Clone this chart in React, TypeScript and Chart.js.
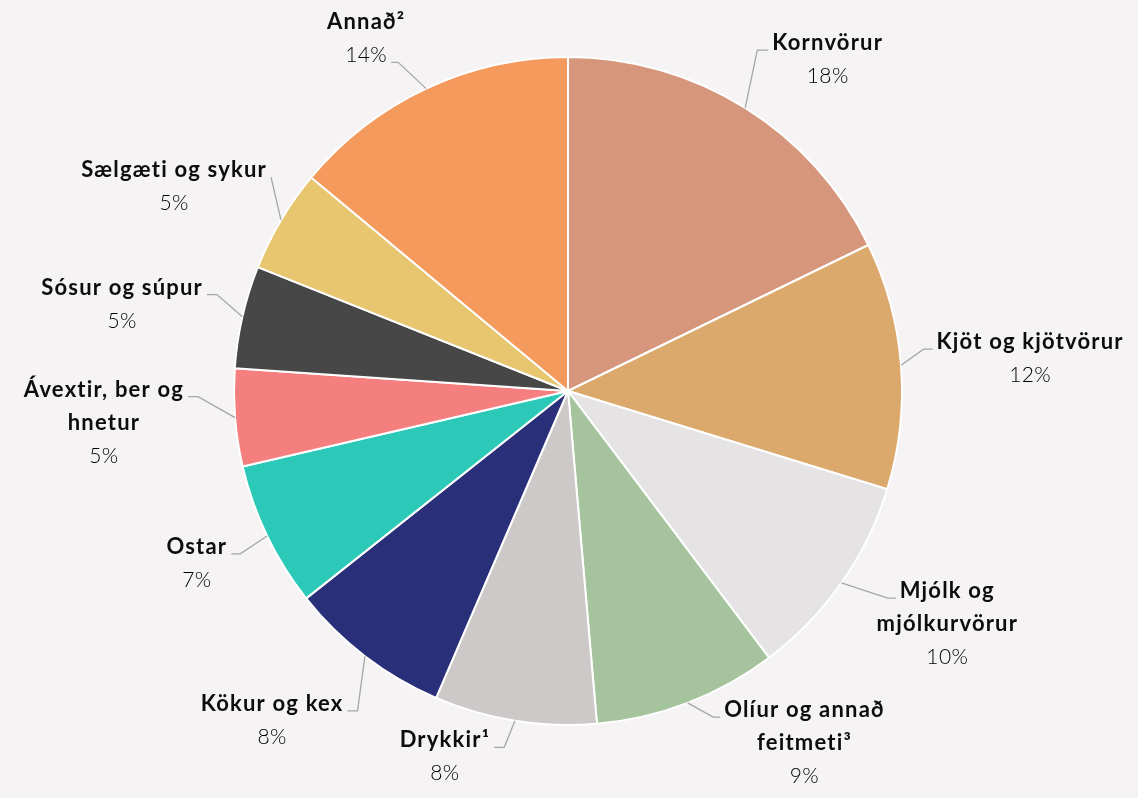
import React, { useEffect, useRef } from "react";
import { Chart, registerables } from "chart.js";

Chart.register(...registerables);

const categories: string[][] = [
  ["Kornvörur"],
  ["Kjöt og kjötvörur"],
  ["Mjólk og", "mjólkurvörur"],
  ["Olíur og annað", "feitmeti³"],
  ["Drykkir¹"],
  ["Kökur og kex"],
  ["Ostar"],
  ["Ávextir, ber og", "hnetur"],
  ["Sósur og súpur"],
  ["Sælgæti og sykur"],
  ["Annað²"],
];

const shares: number[] = [17.8, 11.95, 9.97, 8.9, 7.84, 7.88, 7.03, 4.72, 4.96, 4.99, 13.96];

const colors: string[] = [
  "#d6967b",
  "#dca96c",
  "#e5e3e4",
  "#a5c49d",
  "#cdc9c8",
  "#2a2f7a",
  "#2cc9b9",
  "#f47f7e",
  "#474747",
  "#e8c56f",
  "#f49a5d",
];

// label layout: distance of elbow beyond the rim, angular shift (deg), horizontal tail length, anchor line index
const labelDist: number[] = [56, 24, 47, 23, 28, 49, 32, 36, 30, 32, 36];
const labelShift: number[] = [-3, -2.3, -2.1, -3, 1, -4.1, -0.7, 3.7, 2.5, 5, -2.2];
const labelTail: number[] = [11, 9, 8, 7, 10, 10, 9, 10, 10, 0, 7];
const labelAnchorLine: number[] = [0, 0, 0, 0, 0, 0, 0, 0, 0, 0, 1];

const BG = "#f5f3f4";
const LINE_H = 33;
const GAP = 4;
const BOLD_FONT = "bold 22px Lato";
const BOLD_SPACING = "1.2px";
const PCT_FONT = "300 21px Lato";
const PCT_SPACING = "0.4px";

const outLabels = {
  id: "outLabels",
  afterDatasetsDraw(chart: any) {
    const ctx: any = chart.ctx;
    const meta = chart.getDatasetMeta(0);
    const data: number[] = chart.data.datasets[0].data;
    const total = data.reduce((a, b) => a + b, 0);
    ctx.save();
    meta.data.forEach((arc: any, i: number) => {
      const p = arc.getProps(["x", "y", "startAngle", "endAngle", "outerRadius"], true);
      const mid = (p.startAngle + p.endAngle) / 2;
      const ax = p.x + Math.cos(mid) * p.outerRadius;
      const ay = p.y + Math.sin(mid) * p.outerRadius;
      const ea = mid + (labelShift[i] * Math.PI) / 180;
      const er = p.outerRadius + labelDist[i];
      const ex = p.x + Math.cos(ea) * er;
      const ey = p.y + Math.sin(ea) * er;
      const side = Math.cos(mid) >= 0 ? 1 : -1;
      const tx = ex + side * labelTail[i];

      ctx.strokeStyle = "#a6a6a6";
      ctx.lineWidth = 1.3;
      ctx.beginPath();
      ctx.moveTo(ax, ay);
      ctx.lineTo(ex, ey);
      ctx.lineTo(tx, ey);
      ctx.stroke();

      const pct = Math.round((data[i] / total) * 100) + "%";
      const lines = [
        ...categories[i].map((t) => ({ t, f: BOLD_FONT, s: BOLD_SPACING, c: "#0d0d0d" })),
        { t: pct, f: PCT_FONT, s: PCT_SPACING, c: "#000000" },
      ];
      const ai = labelAnchorLine[i];
      ctx.font = lines[ai].f;
      ctx.letterSpacing = lines[ai].s;
      const aw = ctx.measureText(lines[ai].t).width;
      const cx = side > 0 ? tx + GAP + aw / 2 : tx - GAP - aw / 2;
      const baseTop = ey - ai * LINE_H;
      ctx.textAlign = "center";
      ctx.textBaseline = "alphabetic";
      lines.forEach((ln, k) => {
        ctx.font = ln.f;
        ctx.letterSpacing = ln.s;
        ctx.fillStyle = ln.c;
        ctx.fillText(ln.t, cx, baseTop + k * LINE_H);
      });
    });
    ctx.restore();
  },
};

export default function App() {
  const ref = useRef<HTMLCanvasElement | null>(null);
  useEffect(() => {
    document.body.style.margin = "0";
    document.body.style.background = BG;
    if (!ref.current) return;
    const chart = new Chart(ref.current, {
      type: "pie",
      data: {
        labels: categories.map((c) => c.join(" ")),
        datasets: [
          {
            data: shares,
            backgroundColor: colors,
            borderColor: "#ffffff",
            borderWidth: 2,
            hoverOffset: 0,
            offset: 0,
          },
        ],
      },
      options: {
        animation: false,
        responsive: true,
        maintainAspectRatio: false,
        layout: { padding: { top: 56, bottom: 72, left: 0, right: 2 } },
        plugins: {
          legend: { display: false },
          tooltip: { enabled: false },
        },
      },
      plugins: [outLabels],
    });
    return () => chart.destroy();
  }, []);
  return (
    <div style={{ position: "fixed", left: 0, top: 0, width: 1138, height: 798, background: BG }}>
      <canvas ref={ref} />
    </div>
  );
}
